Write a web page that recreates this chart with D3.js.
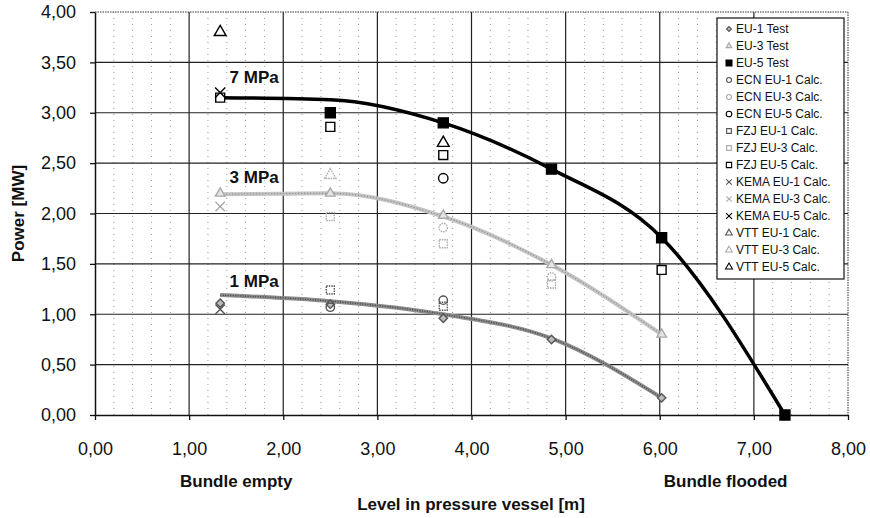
<!DOCTYPE html>
<html>
<head>
<meta charset="utf-8">
<script src="https://cdn.jsdelivr.net/npm/d3@7"></script>
<style>
  body { margin: 0; background: #fff; }
  svg { font-family: "Liberation Sans", Arial, sans-serif; }
</style>
</head>
<body>
<div id="chart"></div>
<script>
// data (x = level [m], y = power [MW])
const xTicks = [0, 1, 2, 3, 4, 5, 6, 7, 8];
const yTicks = [0, 0.5, 1, 1.5, 2, 2.5, 3, 3.5, 4];

// smoothed curves
const line7 = [[1.33, 3.15], [2.5, 3.13], [3.7, 2.90], [4.85, 2.44], [6.02, 1.76], [7.33, 0.0]];
const line3 = [[1.33, 2.19], [2.5, 2.20], [3.7, 1.97], [4.85, 1.49], [6.02, 0.80]];
const line1 = [[1.33, 1.19], [2.5, 1.13], [3.7, 1.00], [4.85, 0.76], [6.02, 0.17]];
const lineNames = ["7 MPa", "3 MPa", "1 MPa"];
const lineLabelAt = [[1.43, 3.30], [1.43, 2.30], [1.43, 1.27]];

// marker series
const eu1Test = [[1.33, 1.11], [2.5, 1.10], [3.7, 0.96], [4.85, 0.75], [6.02, 0.17]];
const eu3Test = [[1.33, 2.20], [2.5, 2.20], [3.7, 1.98], [4.85, 1.49], [6.02, 0.80]];
const eu5Test = [[2.5, 3.00], [3.7, 2.90], [4.85, 2.44], [6.02, 1.76], [7.33, 0.0]];
const ecnEu1 = [[2.5, 1.07], [3.7, 1.14]];
const ecnEu3 = [[3.7, 1.86], [4.85, 1.37]];
const ecnEu5 = [[3.7, 2.35]];
const fzjEu1 = [[2.5, 1.24], [3.7, 1.08]];
const fzjEu3 = [[2.5, 1.97], [3.7, 1.70], [4.85, 1.30]];
const fzjEu5 = [[1.33, 3.15], [2.5, 2.86], [3.7, 2.58], [6.02, 1.44]];
const kemaEu1 = [[1.33, 1.05]];
const kemaEu3 = [[1.33, 2.07]];
const kemaEu5 = [[1.33, 3.20]];
const vttEu1 = [];
const vttEu3 = [[2.5, 2.38]];
const vttEu5 = [[1.33, 3.80], [3.7, 2.70]];

const dark = "#555", light = "#aaa", black = "#000";
const series = [
  { name: "EU-1 Test", data: eu1Test, sym: d3.symbolDiamond2, color: dark, fill: "#bbb", size: 45 },
  { name: "EU-3 Test", data: eu3Test, sym: d3.symbolTriangle, color: light, fill: "#e4e4e4", size: 40 },
  { name: "EU-5 Test", data: eu5Test, sym: d3.symbolSquare, color: black, fill: black, size: 100 },
  { name: "ECN EU-1 Calc.", data: ecnEu1, sym: d3.symbolCircle, color: dark, fill: "none", size: 55 },
  { name: "ECN EU-3 Calc.", data: ecnEu3, sym: d3.symbolCircle, color: light, fill: "none", size: 55, dash: "1.5,1" },
  { name: "ECN EU-5 Calc.", data: ecnEu5, sym: d3.symbolCircle, color: black, fill: "none", size: 70 },
  { name: "FZJ EU-1 Calc.", data: fzjEu1, sym: d3.symbolSquare, color: dark, fill: "none", size: 64, dash: "1.5,1" },
  { name: "FZJ EU-3 Calc.", data: fzjEu3, sym: d3.symbolSquare, color: light, fill: "none", size: 64, dash: "1.5,1" },
  { name: "FZJ EU-5 Calc.", data: fzjEu5, sym: d3.symbolSquare, color: black, fill: "#fff", size: 80 },
  { name: "KEMA EU-1 Calc.", data: kemaEu1, sym: d3.symbolTimes, color: dark, fill: "none", size: 60 },
  { name: "KEMA EU-3 Calc.", data: kemaEu3, sym: d3.symbolTimes, color: light, fill: "none", size: 60 },
  { name: "KEMA EU-5 Calc.", data: kemaEu5, sym: d3.symbolTimes, color: black, fill: "none", size: 70 },
  { name: "VTT EU-1 Calc.", data: vttEu1, sym: d3.symbolTriangle, color: dark, fill: "none", size: 55 },
  { name: "VTT EU-3 Calc.", data: vttEu3, sym: d3.symbolTriangle, color: light, fill: "none", size: 55, dash: "1.5,1" },
  { name: "VTT EU-5 Calc.", data: vttEu5, sym: d3.symbolTriangle, color: black, fill: "#fff", size: 60 }
];

const svg = d3.select("#chart")
  .append("svg")
  .attr("width", 870)
  .attr("height", 518);

const margin = { top: 12, right: 22, bottom: 103, left: 95 };
const width = 870 - margin.left - margin.right;
const height = 518 - margin.top - margin.bottom;

const chart = svg.append("g")
  .attr("transform", `translate(${margin.left}, ${margin.top})`);

const x = d3.scaleLinear().domain([0, 8]).range([0, width]);
const y = d3.scaleLinear().domain([0, 4]).range([height, 0]);

const locale = d3.formatLocale({ decimal: ",", thousands: ".", grouping: [3], currency: ["", "€"] });
const fmt = locale.format(".2f");

// minor dotted grid
chart.append("g")
  .selectAll("line")
  .data(x.ticks(40).filter(d => Math.abs(d - Math.round(d)) > 1e-6))
  .enter().append("line")
  .attr("x1", d => x(d)).attr("x2", d => x(d))
  .attr("y1", 0).attr("y2", height)
  .attr("stroke", "#999")
  .attr("stroke-width", 1)
  .attr("stroke-dasharray", "1,5");

// major grid
chart.append("g")
  .selectAll("line")
  .data(xTicks.slice(1, -1))
  .enter().append("line")
  .attr("x1", d => x(d)).attr("x2", d => x(d))
  .attr("y1", 0).attr("y2", height)
  .attr("stroke", "#222")
  .attr("stroke-width", 1.2);

chart.append("g")
  .selectAll("line")
  .data(yTicks.slice(1, -1))
  .enter().append("line")
  .attr("x1", 0).attr("x2", width)
  .attr("y1", d => y(d)).attr("y2", d => y(d))
  .attr("stroke", "#222")
  .attr("stroke-width", 1.2);

// dotted frame top and right
chart.append("line")
  .attr("x1", 0).attr("x2", width).attr("y1", 0).attr("y2", 0)
  .attr("stroke", "#333").attr("stroke-dasharray", "1.5,1");
chart.append("line")
  .attr("x1", width).attr("x2", width).attr("y1", 0).attr("y2", height)
  .attr("stroke", "#333").attr("stroke-dasharray", "1.5,1");

// axes
const xAxis = chart.append("g")
  .attr("transform", `translate(0, ${height})`)
  .call(d3.axisBottom(x).tickValues(xTicks).tickFormat(fmt).tickSize(5).tickSizeOuter(0).tickPadding(22));
const yAxis = chart.append("g")
  .call(d3.axisLeft(y).tickValues(yTicks).tickFormat(fmt).tickSize(5).tickSizeOuter(0).tickPadding(14));

[xAxis, yAxis].forEach(a => {
  a.select(".domain").attr("stroke", "#111").attr("stroke-width", 1.5);
  a.selectAll(".tick line").attr("stroke", "#111").attr("stroke-width", 1.3);
  a.selectAll("text").attr("font-size", "18px").attr("fill", "#111")
    .attr("font-family", "Liberation Sans, Arial, sans-serif");
});

// curves
const lineGen = d3.line()
  .x(d => x(d[0]))
  .y(d => y(d[1]))
  .curve(d3.curveMonotoneX);

chart.append("path").datum(line3)
  .attr("d", lineGen).attr("fill", "none")
  .attr("stroke", "#c4c4c4").attr("stroke-width", 4);
chart.append("path").datum(line3)
  .attr("d", lineGen).attr("fill", "none")
  .attr("stroke", "#8a8a8a").attr("stroke-width", 1.2).attr("stroke-dasharray", "1,2");

chart.append("path").datum(line1)
  .attr("d", lineGen).attr("fill", "none")
  .attr("stroke", "#8c8c8c").attr("stroke-width", 4);
chart.append("path").datum(line1)
  .attr("d", lineGen).attr("fill", "none")
  .attr("stroke", "#444").attr("stroke-width", 1.4).attr("stroke-dasharray", "1,1.5");

chart.append("path").datum(line7)
  .attr("d", lineGen).attr("fill", "none")
  .attr("stroke", "#000").attr("stroke-width", 3.5);

// markers
series.forEach(s => {
  chart.append("g")
    .selectAll("path")
    .data(s.data)
    .enter().append("path")
    .attr("transform", d => `translate(${x(d[0])}, ${y(d[1])})`)
    .attr("d", d3.symbol().type(s.sym).size(s.size))
    .attr("fill", s.fill)
    .attr("stroke", s.color)
    .attr("stroke-width", 1.4)
    .attr("stroke-dasharray", s.dash || null);
});

// curve labels
chart.selectAll(".mpa")
  .data(lineNames)
  .enter().append("text")
  .attr("x", (d, i) => x(lineLabelAt[i][0]))
  .attr("y", (d, i) => y(lineLabelAt[i][1]))
  .attr("font-size", "17px")
  .attr("font-weight", "bold")
  .attr("fill", "#111")
  .text(d => d);

// axis titles
svg.append("text")
  .attr("x", margin.left + x(1.5))
  .attr("y", 487)
  .attr("text-anchor", "middle")
  .attr("font-size", "17px").attr("font-weight", "bold").attr("fill", "#111")
  .text("Bundle empty");

svg.append("text")
  .attr("x", margin.left + x(6.7))
  .attr("y", 487)
  .attr("text-anchor", "middle")
  .attr("font-size", "17px").attr("font-weight", "bold").attr("fill", "#111")
  .text("Bundle flooded");

svg.append("text")
  .attr("x", 471)
  .attr("y", 510)
  .attr("text-anchor", "middle")
  .attr("font-size", "17px").attr("font-weight", "bold").attr("fill", "#111")
  .text("Level in pressure vessel [m]");

svg.append("text")
  .attr("transform", "rotate(-90)")
  .attr("x", -(margin.top + height / 2))
  .attr("y", 24)
  .attr("text-anchor", "middle")
  .attr("font-size", "17px").attr("font-weight", "bold").attr("fill", "#111")
  .text("Power [MW]");

// legend
const legend = svg.append("g")
  .attr("transform", "translate(717, 18)");

legend.append("rect")
  .attr("width", 127)
  .attr("height", 261)
  .attr("fill", "#fff")
  .attr("stroke", "#111")
  .attr("stroke-width", 1.2);

series.forEach((s, i) => {
  const row = legend.append("g")
    .attr("transform", `translate(0, ${15 + i * 17})`);

  row.append("path")
    .attr("transform", "translate(12, -4)")
    .attr("d", d3.symbol().type(s.sym).size(s.size * 0.35))
    .attr("fill", s.fill)
    .attr("stroke", s.color)
    .attr("stroke-width", 1.1);

  row.append("text")
    .attr("x", 19)
    .attr("y", 0)
    .attr("font-size", "12px")
    .attr("fill", "#111")
    .text(s.name);
});
</script>
</body>
</html>
